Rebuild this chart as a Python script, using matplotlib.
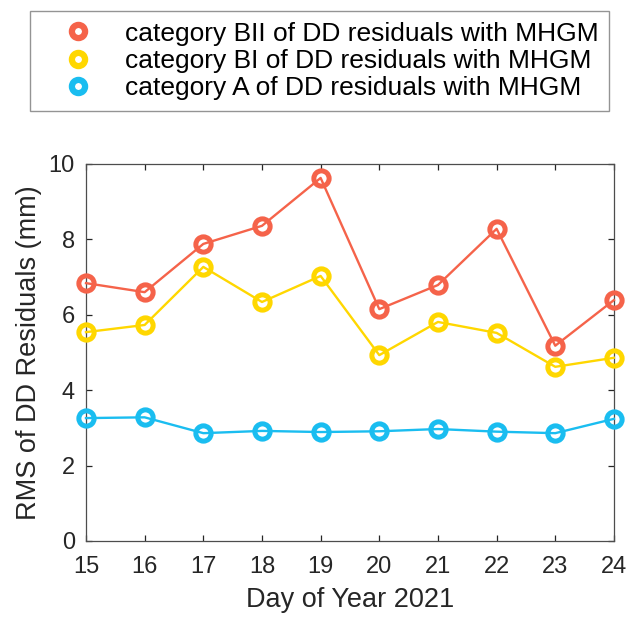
import matplotlib
matplotlib.use("Agg")
import matplotlib.pyplot as plt
from matplotlib.lines import Line2D

plt.rcParams['font.family'] = ['Liberation Sans', 'DejaVu Sans']

days = [15, 16, 17, 18, 19, 20, 21, 22, 23, 24]
rms_bii = [6.84, 6.60, 7.88, 8.36, 9.63, 6.15, 6.79, 8.28, 5.18, 6.39]
rms_bi = [5.54, 5.73, 7.27, 6.34, 7.03, 4.93, 5.81, 5.52, 4.62, 4.86]
rms_a = [3.26, 3.28, 2.86, 2.92, 2.89, 2.91, 2.97, 2.90, 2.86, 3.24]
labels = ['category BII of DD residuals with MHGM',
          'category BI of DD residuals with MHGM',
          'category A of DD residuals with MHGM']
colors = ['#F5634A', '#FFD700', '#1ABDF0']

fig = plt.figure(figsize=(6.3, 6.17), dpi=100)
ax = fig.add_axes([0.1365, 0.1232, 0.838, 0.611])

handles = []
for vals, c, lab in zip([rms_bii, rms_bi, rms_a], colors, labels):
    ax.plot(days, vals, color=c, lw=1.7, marker='o', ms=11, mfc='none',
            mec=c, mew=3.6, clip_on=False, zorder=3)
    handles.append(Line2D([], [], ls='none', marker='o', ms=9.5, mfc='none',
                          mec=c, mew=4.5, label=lab))

ax.set_xlim(15, 24)
ax.set_ylim(0, 10)
ax.set_xticks(days)
ax.set_yticks([0, 2, 4, 6, 8, 10])
ax.tick_params(direction='in', top=True, right=True, labelsize=17,
               colors='#262626', length=4.3, width=0.9)
ax.tick_params(axis='x', pad=11)
ax.tick_params(axis='y', pad=8)
for s in ax.spines.values():
    s.set_color('#4d4d4d')
    s.set_linewidth(0.9)
ax.set_xlabel('Day of Year 2021', fontsize=19.5, color='#262626', labelpad=6)
ax.set_ylabel('RMS of DD Residuals (mm)', fontsize=19.5, color='#262626', labelpad=5)

leg = fig.legend(handles=handles, loc='upper left', bbox_to_anchor=(0.0476, 0.982),
                 fontsize=19, frameon=True, fancybox=False, edgecolor='#7a7a7a',
                 handlelength=2.84, handletextpad=0.36, borderpad=0.4,
                 labelspacing=0.12, borderaxespad=0)
leg.get_frame().set_linewidth(1)

fig.savefig('out.png', dpi=100)
